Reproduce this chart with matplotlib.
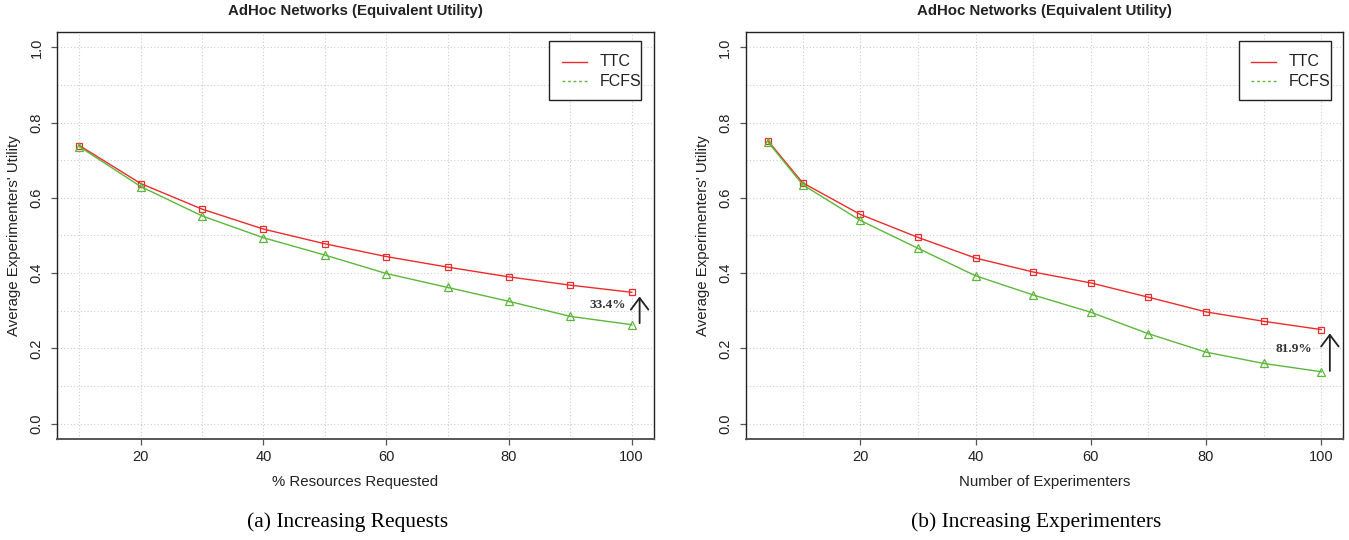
import matplotlib.pyplot as plt
from matplotlib.patches import Rectangle

# (a) increasing requests
req_x = [10, 20, 30, 40, 50, 60, 70, 80, 90, 100]
req_ttc = [0.739, 0.638, 0.570, 0.517, 0.478, 0.444, 0.416, 0.390, 0.368, 0.349]
req_fcfs = [0.736, 0.630, 0.552, 0.494, 0.448, 0.399, 0.362, 0.325, 0.285, 0.263]

# (b) increasing experimenters
exp_x = [4, 10, 20, 30, 40, 50, 60, 70, 80, 90, 100]
exp_ttc = [0.751, 0.640, 0.556, 0.495, 0.440, 0.403, 0.374, 0.336, 0.297, 0.272, 0.250]
exp_fcfs = [0.748, 0.635, 0.540, 0.466, 0.393, 0.342, 0.296, 0.239, 0.190, 0.160, 0.138]

series_names = ['TTC', 'FCFS']

RED = '#ee2b2b'
GREEN = '#5cb83a'
DARK = '#222222'
TITLE = "AdHoc Networks (Equivalent Utility)"
YLAB = "Average Experimenters' Utility"

plt.rcParams['font.family'] = ['Liberation Sans', 'DejaVu Sans']


def legend_box(ax):
    # R style legend box, drawn by hand so the padding matches
    ax.add_patch(Rectangle((0.825, 0.8334), 0.1537, 0.1452, transform=ax.transAxes,
                           facecolor='white', edgecolor=DARK, lw=1.0, zorder=5))
    rows = [(0.928, RED, '-'), (0.879, GREEN, (0, (2, 2)))]
    for name, (yy, c, ls) in zip(series_names, rows):
        ax.plot([0.8455, 0.8874], [yy, yy], transform=ax.transAxes, color=c, lw=1,
                ls=ls, zorder=6)
        ax.text(0.9088, yy, name, transform=ax.transAxes, ha='left', va='center',
                fontsize=11.5, color=DARK, zorder=6)


def panel(ax, x, ttc, fcfs, xlabel, caption, cap_x, gain, txt_pos, arr):
    xmin, xmax = min(x), max(x)
    pad = (xmax - xmin) * 0.04
    ax.set_xlim(xmin - pad, xmax + pad)
    ax.set_ylim(-0.04, 1.04)
    # grid every 10 on x, every 0.1 on y
    for gx in range(10, 101, 10):
        ax.axvline(gx, color='#cccccc', lw=0.8, ls=(0, (1, 2)), zorder=0)
    for i in range(11):
        ax.axhline(i / 10, color='#cccccc', lw=0.8, ls=(0, (1, 2)), zorder=0)
    ax.plot(x, ttc, color=RED, lw=1, marker='s', ms=4.8, mfc='none', mec=RED, mew=0.9)
    ax.plot(x, fcfs, color=GREEN, lw=1, marker='^', ms=5.3, mfc='none', mec=GREEN, mew=0.9)
    ax.set_xticks([20, 40, 60, 80, 100])
    ax.set_yticks([0.0, 0.2, 0.4, 0.6, 0.8, 1.0])
    ax.set_yticklabels(['0.0', '0.2', '0.4', '0.6', '0.8', '1.0'], rotation=90, va='center')
    ax.tick_params(labelsize=10.5, labelcolor=DARK, color='#555555', length=4.5, width=0.9)
    ax.tick_params(axis='y', pad=5.5)
    for s in ax.spines.values():
        s.set_color(DARK)
        s.set_linewidth(1.0)
    ax.spines['bottom'].set_color('#555555')
    ax.spines['bottom'].set_linewidth(1.4)
    ax.set_xlabel(xlabel, fontsize=10.8, color=DARK, labelpad=8)
    ax.set_ylabel(YLAB, fontsize=10.8, color=DARK, labelpad=6)
    ax.text(0.5, 1.0524, TITLE, transform=ax.transAxes, ha='center', va='center',
            fontsize=10.8, fontweight='bold', color=DARK)
    fig.text(cap_x, 1 - 522 / 540, caption, ha='center', va='center',
             fontsize=15.4, family='Liberation Serif')
    ax.text(txt_pos[0], txt_pos[1], gain, ha='center', va='center', fontsize=9.5,
            fontweight='bold', family='Liberation Serif', color='#333333')
    ax.annotate('', xy=(arr[0], arr[2]), xytext=(arr[0], arr[1]),
                arrowprops=dict(arrowstyle='->,head_length=0.6,head_width=0.45',
                                color=DARK, lw=1.3, mutation_scale=14,
                                shrinkA=0, shrinkB=0))
    legend_box(ax)


fig = plt.figure(figsize=(13.49, 5.4), dpi=100)
ax1 = fig.add_axes([0.0425, 0.1876, 0.4421, 0.7526])
ax2 = fig.add_axes([0.553, 0.1876, 0.4428, 0.7526])

panel(ax1, req_x, req_ttc, req_fcfs, '% Resources Requested',
      '(a) Increasing Requests', 348 / 1349, '33.4%', (96.1, 0.315), (101.3, 0.267, 0.338))
panel(ax2, exp_x, exp_ttc, exp_fcfs, 'Number of Experimenters',
      '(b) Increasing Experimenters', 1036 / 1349, '81.9%', (95.3, 0.198), (101.5, 0.140, 0.240))

fig.savefig('out.png', dpi=100)
